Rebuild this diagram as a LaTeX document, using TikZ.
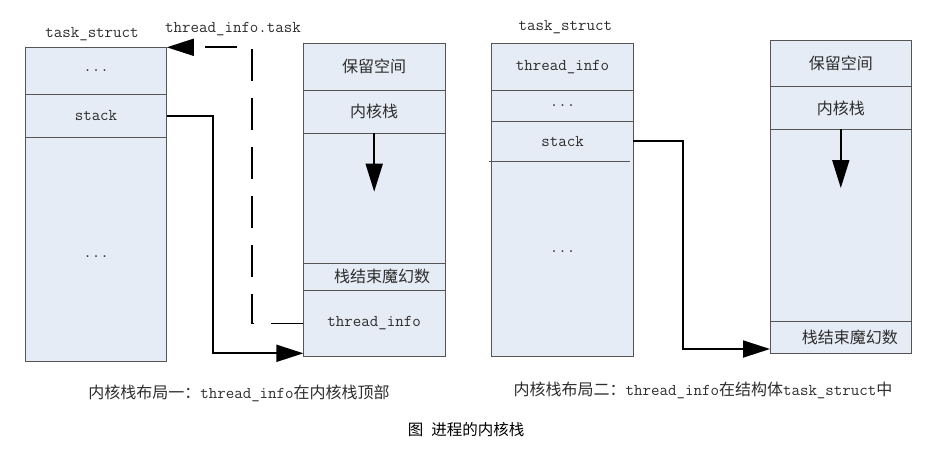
\documentclass[tikz,border=0pt]{standalone}
\usepackage{fontspec}
\newfontfamily\cjk{Noto Sans CJK SC}
\usetikzlibrary{positioning,arrows.meta}
\definecolor{cellfill}{RGB}{230,236,246}
\definecolor{cellline}{RGB}{85,85,85}
\definecolor{celltext}{RGB}{45,45,45}
\tikzset{
	cell/.style={draw=cellline, fill=cellfill, line width=0.8pt, inner sep=0pt, outer sep=0pt, text=celltext, minimum width=141.6pt},
	cellnb/.style={cell, draw=none},
	zh/.style={font=\cjk\fontsize{16}{18}\selectfont},
	en/.style={font=\ttfamily\fontsize{16.5}{18}\selectfont},
	lab/.style={text=celltext},
	ptr/.style={line width=1.8pt, -{Triangle[length=27pt,width=17pt]}},
}

\begin{document}
\begin{tikzpicture}[x=1pt,y=-1pt]
		\useasboundingbox (0,0) rectangle (942,458) ;
		%%%%% Layout one: task_struct
		\node[cell, en, minimum height=47pt] (TSa1) at (96,70.8) {...} ;
		\node[cell, en, minimum height=43pt, below=0pt of TSa1] (TSa2) {stack} ;
		\node[cell, en, minimum height=224.4pt, below=0pt of TSa2] (TSa3) {\raisebox{-8pt}[0pt][0pt]{...}} ;
		\node[en, lab] (TSaLab) at (92,34) {task\_struct} ;
		%%%%% Layout one: kernel stack
		\node[cell, zh, minimum height=47pt] (KSa1) at (374.2,66.8) {保留空间} ;
		\node[cell, zh, minimum height=43pt, below=0pt of KSa1] (KSa2) {内核栈} ;
		\node[cell, minimum height=129.7pt, below=0pt of KSa2] (KSa3) {} ;
		\node[cell, zh, minimum height=27.3pt, below=0pt of KSa3] (KSa4) {\hspace*{16pt}栈结束魔幻数} ;
		\node[cell, en, minimum height=66.4pt, below=0pt of KSa4] (KSa5) {thread\_info} ;
		\node[en, lab] (TaskLab) at (233,29) {thread\_info.task} ;
		%%%%% Layout two: task_struct
		\node[cell, en, minimum height=47pt] (TSb1) at (562.5,66.8) {thread\_info} ;
		\node[cell, en, minimum height=31.4pt, below=0pt of TSb1] (TSb2) {...} ;
		\node[cellnb, en, minimum height=39.3pt, below=0pt of TSb2] (TSb3) {stack} ;
		\node[cellnb, en, minimum height=195.7pt, below=0pt of TSb3] (TSb4) {\raisebox{6pt}[0pt][0pt]{...}} ;
		\draw[draw=cellline, line width=0.8pt] (TSb3.north west) rectangle (TSb4.south east) ;
		\draw[draw=cellline, line width=0.8pt] ([xshift=-3pt]TSb3.south west) -- ([xshift=-3pt]TSb3.south east) ;
		\node[en, lab] (TSbLab) at (565.3,27) {task\_struct} ;
		%%%%% Layout two: kernel stack
		\node[cell, zh, minimum height=46.7pt] (KSb1) at (840.8,63.3) {保留空间} ;
		\node[cell, zh, minimum height=42.6pt, below=0pt of KSb1] (KSb2) {内核栈} ;
		\node[cell, minimum height=192.4pt, below=0pt of KSb2] (KSb3) {} ;
		\node[cell, zh, minimum height=31.6pt, below=0pt of KSb3] (KSb4) {\hspace*{18pt}栈结束魔幻数} ;
		%%%%% captions
		\node[en, lab] (CapA) at (239,393) {{\cjk\fontsize{16}{18}\selectfont 内核栈布局一：}thread\_info{\cjk\fontsize{16}{18}\selectfont 在内核栈顶部}} ;
		\node[en, lab] (CapB) at (703,390) {{\cjk\fontsize{16}{18}\selectfont 内核栈布局二：}thread\_info{\cjk\fontsize{16}{18}\selectfont 在结构体}task\_struct{\cjk\fontsize{16}{18}\selectfont 中}} ;
		\node[font=\cjk\fontsize{15.5}{18}\selectfont] (Title) at (466,430) {图\hspace{8pt}进程的内核栈} ;
		% bends
		\coordinate (Bend1) at (213.3,353.3) ;
		\coordinate (Bend2) at (252.3,0) ;
		\coordinate (Bend3) at (683.3,349) ;
		\coordinate (Ga) at (374.2,191.7) ;
		\coordinate (Gb) at (840.8,188) ;
		% pointers
		\draw[ptr] (TSa2.east) -| (Bend1) -- (Bend1 -| KSa5.west) ;
		\draw[ptr, dash pattern=on 32pt off 17pt] (KSa5.west) -| (Bend2 |- TSa1.north east) -- (TSa1.north east) ;
		\draw[ptr, -{Triangle[length=28pt,width=17pt]}] (KSa3.north) -- (Ga) ;
		\draw[ptr] (TSb3.east) -| (Bend3) -- (Bend3 -| KSb4.west) ;
		\draw[ptr, -{Triangle[length=28pt,width=17pt]}] (KSb3.north) -- (Gb) ;
	\end{tikzpicture}
\end{document}
